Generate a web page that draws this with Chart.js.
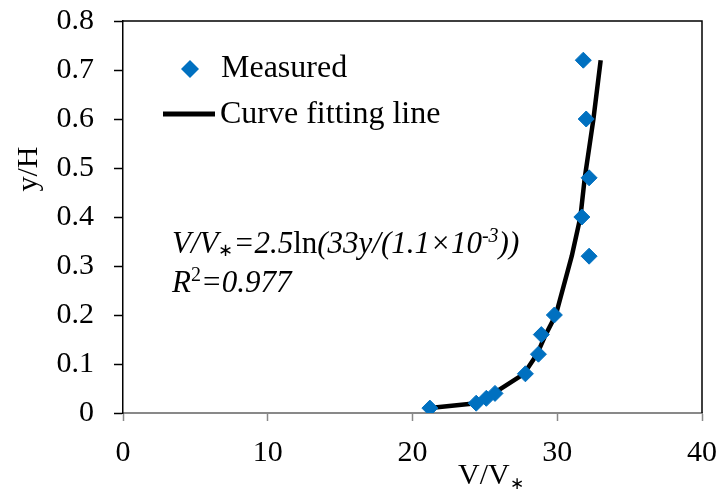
<!DOCTYPE html>
<html>
<head>
<meta charset="utf-8">
<script src="https://cdn.jsdelivr.net/npm/chart.js@4.4.0/dist/chart.umd.min.js"></script>
<style>
  html, body { margin: 0; padding: 0; background: #fff; }
</style>
</head>
<body>
<canvas id="myChart" width="720" height="495"></canvas>
<script>
/* globals Chart:false */
(function () {
  'use strict'

  // measured velocity profile (V/V*, y/H)
  var measuredX = [21.2, 24.4, 25.1, 25.7, 27.8, 28.7, 28.9, 29.8, 32.2, 31.7, 32.2, 32.0, 31.8]
  var measuredY = [0.01, 0.02, 0.03, 0.04, 0.08, 0.12, 0.16, 0.20, 0.32, 0.40, 0.48, 0.60, 0.72]

  // fitted curve, read at the same depths
  var fitX = [21.2, 24.4, 25.1, 25.6, 27.7, 28.6, 29.2, 29.9, 31.0, 31.6, 31.9, 32.5, 33.0]
  var fitY = [0.01, 0.02, 0.03, 0.04, 0.08, 0.12, 0.16, 0.20, 0.32, 0.40, 0.48, 0.60, 0.72]

  var xRange = [0, 40]
  var yRange = [0, 0.8]

  var FONT = "'Liberation Serif', 'Times New Roman', serif"
  var BLUE = '#0070c0'

  function pts (xs, ys) {
    return xs.map(function (x, i) { return { x: x, y: ys[i] } })
  }

  // draw a list of text runs one after another on a baseline
  function drawRuns (ctx, x, y, runs) {
    runs.forEach(function (r) {
      ctx.font = (r.italic ? 'italic ' : '') + (r.size || 31) + 'px ' + FONT
      ctx.fillText(r.t, x, y + (r.dy || 0))
      x += ctx.measureText(r.t).width
    })
  }

  var extras = {
    id: 'extras',
    afterDraw: function (chart) {
      var ctx = chart.ctx
      var area = chart.chartArea
      ctx.save()

      // top and right frame
      ctx.strokeStyle = '#000'
      ctx.lineWidth = 1.5
      ctx.beginPath()
      ctx.moveTo(area.left, area.top)
      ctx.lineTo(area.right, area.top)
      ctx.lineTo(area.right, area.bottom)
      ctx.stroke()

      ctx.fillStyle = '#000'
      ctx.textAlign = 'left'
      ctx.textBaseline = 'alphabetic'

      // legend
      var ds = chart.data.datasets
      ctx.fillStyle = BLUE
      ctx.beginPath()
      ctx.moveTo(190 - 9, 69)
      ctx.lineTo(190, 69 - 9)
      ctx.lineTo(190 + 9, 69)
      ctx.lineTo(190, 69 + 9)
      ctx.closePath()
      ctx.fill()
      ctx.strokeStyle = '#000'
      ctx.lineWidth = 5
      ctx.beginPath()
      ctx.moveTo(163, 114)
      ctx.lineTo(215, 114)
      ctx.stroke()
      ctx.fillStyle = '#000'
      ctx.font = '32px ' + FONT
      ctx.fillText(ds[0].label, 221, 77)
      ctx.fillText(ds[1].label, 220, 123)

      // equation
      drawRuns(ctx, 172, 253, [
        { t: 'V/V', italic: true },
        { t: '\u2217', size: 18, dy: 3 },
        { t: '=2.5', italic: true },
        { t: 'ln' },
        { t: '(33y/(1.1\u00d710', italic: true },
        { t: '-3', italic: true, size: 20, dy: -11 },
        { t: '))', italic: true }
      ])
      drawRuns(ctx, 172, 292, [
        { t: 'R', italic: true },
        { t: '2', size: 20, dy: -11 },
        { t: '=0.977', italic: true }
      ])

      // axis titles
      ctx.font = '30px ' + FONT
      ctx.save()
      ctx.translate(37, 169)
      ctx.rotate(-Math.PI / 2)
      ctx.textAlign = 'center'
      ctx.fillText('y/H', 0, 0)
      ctx.restore()
      drawRuns(ctx, 458, 484, [
        { t: 'V/V', size: 30 },
        { t: '\u2217', size: 17, dy: 5 }
      ])

      ctx.restore()
    }
  }

  var ctx = document.getElementById('myChart')
  // eslint-disable-next-line no-unused-vars
  var myChart = new Chart(ctx, {
    type: 'scatter',
    data: {
      datasets: [{
        label: 'Measured',
        data: pts(measuredX, measuredY),
        backgroundColor: BLUE,
        borderColor: BLUE,
        borderWidth: 1,
        pointStyle: 'rectRot',
        pointRadius: 8,
        showLine: false
      }, {
        label: 'Curve fitting line',
        data: pts(fitX, fitY),
        borderColor: '#000',
        borderWidth: 4.5,
        borderJoinStyle: 'round',
        pointRadius: 0,
        showLine: true,
        tension: 0
      }]
    },
    options: {
      responsive: false,
      animation: false,
      layout: { padding: { top: 21, right: 18, left: 0, bottom: 0 } },
      plugins: {
        legend: { display: false },
        tooltip: { enabled: false }
      },
      scales: {
        x: {
          type: 'linear',
          min: xRange[0],
          max: xRange[1],
          afterFit: function (scale) {
            scale.height = 82
            scale.paddingLeft = 0
            scale.paddingRight = 0
          },
          ticks: {
            stepSize: 10,
            color: '#000',
            padding: 14,
            maxRotation: 0,
            font: { family: FONT, size: 30 }
          },
          grid: {
            drawOnChartArea: false,
            drawTicks: true,
            tickLength: 8,
            tickColor: '#898989',
            tickWidth: 1.5
          },
          border: { color: '#898989', width: 2 }
        },
        y: {
          type: 'linear',
          min: yRange[0],
          max: yRange[1],
          afterFit: function (scale) {
            scale.width = 123
            scale.paddingTop = 0
            scale.paddingBottom = 0
          },
          ticks: {
            stepSize: 0.1,
            color: '#000',
            padding: 20,
            font: { family: FONT, size: 30 }
          },
          grid: {
            drawOnChartArea: false,
            drawTicks: true,
            tickLength: 9,
            tickColor: '#000',
            tickWidth: 1.5
          },
          border: { color: '#000', width: 1.5 }
        }
      }
    },
    plugins: [extras]
  })
})()
</script>
</body>
</html>
